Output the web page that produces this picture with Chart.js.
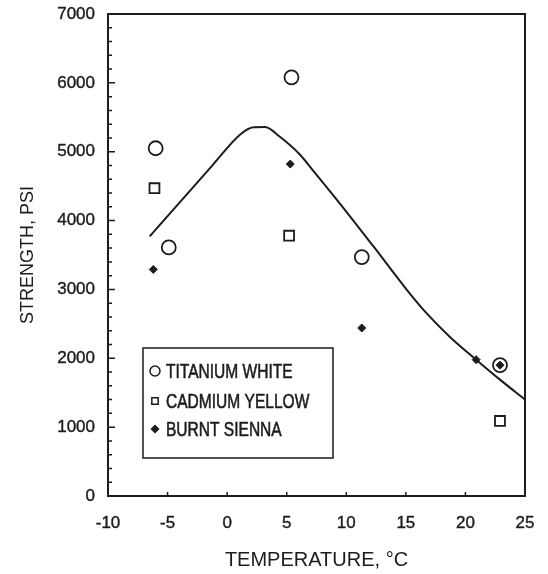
<!DOCTYPE html>
<html>
<head>
    <title>Strength vs Temperature</title>
    <script src="https://cdn.jsdelivr.net/npm/chart.js@4/dist/chart.umd.min.js"></script>
    <style>
        html, body { margin: 0; padding: 0; background: #fff; }
        #wrap { width: 548px; height: 574px; }
    </style>
</head>
<body>
    <div id="wrap"><canvas id="myChart" width="548" height="574"></canvas></div>

    <script>
        var whiteX = [-6.0, -4.9, 5.4, 11.3, 22.9];
        var whiteY = [5050, 3610, 6080, 3470, 1900];

        var yellowX = [-6.1, 5.2, 22.9];
        var yellowY = [4470, 3780, 1090];

        var siennaX = [-6.2, 5.3, 11.3, 20.9, 22.9];
        var siennaY = [3290, 4820, 2440, 1980, 1900];

        // Fitted curve
        var curveX = [-6.5, -4.0, -1.2, 1.1, 2.2, 3.2, 4.4, 6.1, 7.2, 9.5, 12.3, 15.1, 16.5, 18.7, 20.9, 22.9, 25];
        var curveY = [3770, 4260, 4810, 5250, 5355, 5360, 5220, 4960, 4730, 4240, 3620, 2990, 2700, 2310, 1980, 1690, 1400];

        var xTicks = [-10, -5, 0, 5, 10, 15, 20, 25];
        var yTicks = [0, 1000, 2000, 3000, 4000, 5000, 6000, 7000];

        var legendLabels = ['TITANIUM WHITE', 'CADMIUM YELLOW', 'BURNT SIENNA'];

        var ink = '#1c1c1c';
        var fontFamily = '"Liberation Sans", Arial, sans-serif';

        function pts(xs, ys) {
            return xs.map(function (x, i) { return { x: x, y: ys[i] }; });
        }

        // box around the plot + inward ticks
        var framePlugin = {
            id: 'frame',
            afterDatasetsDraw: function (chart) {
                var ctx = chart.ctx, a = chart.chartArea;
                var xs = chart.scales.x, ys = chart.scales.y;
                ctx.save();
                ctx.strokeStyle = ink;
                ctx.lineWidth = 2;
                ctx.strokeRect(a.left, a.top, a.right - a.left, a.bottom - a.top);
                ctx.lineWidth = 1.5;
                ctx.beginPath();
                for (var v = 0; v <= 7000; v += 200) {
                    var py = ys.getPixelForValue(v);
                    var len = (v % 1000 === 0) ? 7 : 4;
                    ctx.moveTo(a.left, py);
                    ctx.lineTo(a.left + len, py);
                }
                xTicks.forEach(function (t) {
                    var px = xs.getPixelForValue(t);
                    ctx.moveTo(px, a.bottom);
                    ctx.lineTo(px, a.bottom - 4);
                });
                ctx.stroke();
                ctx.restore();
            }
        };

        // legend box drawn inside the plot, condensed text like the original
        var legendPlugin = {
            id: 'boxLegend',
            afterDraw: function (chart) {
                var ctx = chart.ctx;
                var left = 143, top = 348, w = 190, h = 110;
                ctx.save();
                ctx.fillStyle = '#fff';
                ctx.fillRect(left, top, w, h);
                ctx.strokeStyle = ink;
                ctx.lineWidth = 1.5;
                ctx.strokeRect(left, top, w, h);
                var rows = [371, 401, 429];
                var styles = ['circle', 'rect', 'rectRot'];
                var radii = [5, 4.5, 3.5];
                var fills = ['#fff', '#fff', ink];
                rows.forEach(function (ry, i) {
                    ctx.fillStyle = fills[i];
                    ctx.strokeStyle = ink;
                    ctx.lineWidth = 1.5;
                    Chart.helpers.drawPoint(ctx, {
                        pointStyle: styles[i], radius: radii[i], borderWidth: 1.5,
                        rotation: 0
                    }, 155, ry);
                });
                ctx.fillStyle = ink;
                ctx.strokeStyle = ink;
                ctx.lineWidth = 0.6;
                ctx.textBaseline = 'middle';
                ctx.font = '21px ' + fontFamily;
                rows.forEach(function (ry, i) {
                    ctx.save();
                    ctx.translate(166, ry + 1);
                    ctx.scale(0.74, 1);
                    ctx.fillText(legendLabels[i], 0, 0);
                    ctx.strokeText(legendLabels[i], 0, 0);
                    ctx.restore();
                });
                ctx.restore();
            }
        };

        var data = {
            datasets: [{
                label: 'curve',
                data: pts(curveX, curveY),
                showLine: true,
                borderColor: ink,
                borderWidth: 2,
                pointRadius: 0,
                cubicInterpolationMode: 'monotone'
            }, {
                label: legendLabels[0],
                data: pts(whiteX, whiteY),
                pointStyle: 'circle',
                pointRadius: 7,
                borderColor: ink,
                backgroundColor: 'rgba(0,0,0,0)',
                borderWidth: 1.8
            }, {
                label: legendLabels[1],
                data: pts(yellowX, yellowY),
                pointStyle: 'rect',
                pointRadius: 7,
                borderColor: ink,
                backgroundColor: 'rgba(0,0,0,0)',
                borderWidth: 1.8
            }, {
                label: legendLabels[2],
                data: pts(siennaX, siennaY),
                pointStyle: 'rectRot',
                pointRadius: 4,
                borderColor: ink,
                backgroundColor: ink,
                borderWidth: 1
            }]
        };

        var config = {
            type: 'scatter',
            data: data,
            plugins: [framePlugin, legendPlugin],
            options: {
                responsive: false,
                animation: false,
                events: [],
                layout: { padding: { top: 14, right: 23, left: 0, bottom: 0 } },
                plugins: {
                    legend: { display: false },
                    tooltip: { enabled: false }
                },
                scales: {
                    x: {
                        type: 'linear',
                        position: 'bottom',
                        min: -10,
                        max: 25,
                        afterFit: function (s) {
                            s.height = 78;
                            s.paddingLeft = 0;
                            s.paddingRight = 0;
                        },
                        afterBuildTicks: function (s) {
                            s.ticks = xTicks.map(function (v) { return { value: v }; });
                        },
                        grid: { display: false, drawTicks: false },
                        border: { display: false },
                        ticks: {
                            padding: 17,
                            color: ink,
                            textStrokeColor: ink,
                            textStrokeWidth: 0.4,
                            callback: function (v) { return String(v); },
                            font: { family: fontFamily, size: 17 }
                        },
                        title: {
                            display: true,
                            text: 'TEMPERATURE, \u00B0C',
                            color: ink,
                            padding: { top: 0, bottom: 2 },
                            font: { family: fontFamily, size: 20 }
                        }
                    },
                    y: {
                        min: 0,
                        max: 7000,
                        afterFit: function (s) {
                            s.width = 108;
                            s.paddingTop = 0;
                            s.paddingBottom = 0;
                        },
                        afterBuildTicks: function (s) {
                            s.ticks = yTicks.map(function (v) { return { value: v }; });
                        },
                        grid: { display: false, drawTicks: false },
                        border: { display: false },
                        ticks: {
                            padding: 13,
                            color: ink,
                            textStrokeColor: ink,
                            textStrokeWidth: 0.4,
                            callback: function (v) { return String(v); },
                            font: { family: fontFamily, size: 17 }
                        },
                        title: {
                            display: true,
                            text: 'STRENGTH, PSI',
                            color: ink,
                            padding: { top: 17, bottom: 0 },
                            font: { family: fontFamily, size: 18 }
                        }
                    }
                }
            }
        };

        var ctx = document.getElementById('myChart').getContext('2d');
        var chart = new Chart(ctx, config);
    </script>
</body>
</html>
